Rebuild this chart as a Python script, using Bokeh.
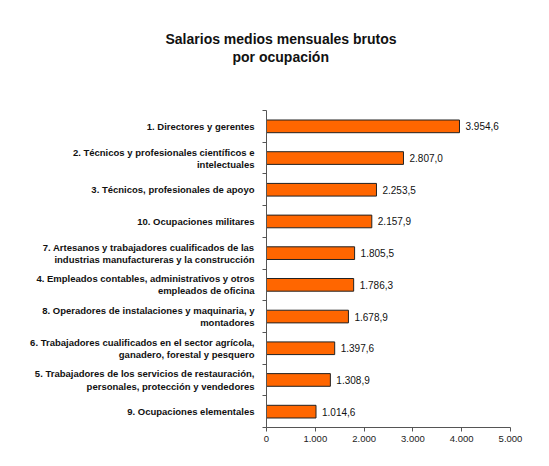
from bokeh.plotting import figure
from bokeh.models import (ColumnDataSource, Range1d, FixedTicker,
                          CustomJSTickFormatter, Title)
from bokeh.core.properties import value
from bokeh.embed import file_html
from bokeh.resources import INLINE

categories = [
    "1. Directores y gerentes",
    "2. Técnicos y profesionales científicos e\nintelectuales",
    "3. Técnicos, profesionales de apoyo",
    "10. Ocupaciones militares",
    "7. Artesanos y trabajadores cualificados de las\nindustrias manufactureras y la construcción",
    "4. Empleados contables, administrativos y otros\nempleados de oficina",
    "8. Operadores de instalaciones y maquinaria, y\nmontadores",
    "6. Trabajadores cualificados en el sector agrícola,\nganadero, forestal y pesquero",
    "5. Trabajadores de los servicios de restauración,\npersonales, protección y vendedores",
    "9. Ocupaciones elementales",
]
salarios = [3954.6, 2807.0, 2253.5, 2157.9, 1805.5, 1786.3, 1678.9, 1397.6, 1308.9, 1014.6]
x_ticks = [0, 1000, 2000, 3000, 4000, 5000]
title_line1 = "Salarios medios mensuales brutos"
title_line2 = "por ocupación"

FONT = "Liberation Sans"


def fmt_es(v):
    s = f"{v:,.1f}"
    return s.replace(",", "X").replace(".", ",").replace("X", ".")


n = len(categories)
pos = [i + 0.5 for i in range(n)]
source = ColumnDataSource(dict(
    y=pos,
    salario=salarios,
    etiqueta=[fmt_es(v) for v in salarios],
))

p = figure(width=549, height=466, output_backend="svg", toolbar_location=None,
           x_range=Range1d(0, 5000), y_range=Range1d(n, 0),
           min_border_left=266, min_border_right=39,
           min_border_top=110, min_border_bottom=39)
p.outline_line_color = None
p.grid.visible = False
p.background_fill_color = "white"
p.border_fill_color = "white"

p.hbar(y="y", left=0, right="salario", height=0.4, source=source,
       fill_color="#FF6600", line_color="#222222", line_width=1)

p.text(x="salario", y="y", text="etiqueta", source=source,
       x_offset=6, text_baseline="middle", text_align="left",
       text_font=value(FONT), text_font_size="10px", text_color="#111111")

# x axis
xa = p.xaxis[0]
xa.ticker = FixedTicker(ticks=x_ticks, minor_ticks=[])
xa.formatter = CustomJSTickFormatter(
    code="return tick.toFixed(0).replace(/\\B(?=(\\d{3})+(?!\\d))/g, '.');")
xa.axis_line_color = "#555555"
xa.major_tick_line_color = "#555555"
xa.major_tick_out = 4
xa.major_tick_in = 0
xa.minor_tick_line_color = None
xa.major_label_text_font = FONT
xa.major_label_text_font_size = "9.5px"
xa.major_label_text_color = "#222222"
xa.major_label_standoff = 4

# y axis
ya = p.yaxis[0]
ya.ticker = FixedTicker(ticks=pos, minor_ticks=list(range(n + 1)))
ya.formatter = CustomJSTickFormatter(args=dict(labels=categories),
                                     code="return labels[Math.floor(tick)] || '';")
ya.axis_line_color = "#555555"
ya.major_tick_line_color = None
ya.major_tick_out = 0
ya.major_tick_in = 0
ya.minor_tick_line_color = "#555555"
ya.minor_tick_out = 4
ya.minor_tick_in = 0
ya.major_label_text_font = FONT
ya.major_label_text_font_style = "bold"
ya.major_label_text_font_size = "9.5px"
ya.major_label_text_color = "#111111"
ya.major_label_text_line_height = 1.1
ya.major_label_standoff = 8

# title: two lines, centred over the canvas (frame starts at x=266)
title_style = dict(align="left", text_font=FONT, text_font_style="bold",
                   text_font_size="14px", text_color="#111111")
p.add_layout(Title(text=" ", standoff=28, **title_style), "above")   # spacer
p.add_layout(Title(text=title_line2, offset=-34, standoff=0, **title_style), "above")
p.add_layout(Title(text=title_line1, offset=-101, standoff=0, **title_style), "above")

open("out.html", "w").write(file_html(p, INLINE))
